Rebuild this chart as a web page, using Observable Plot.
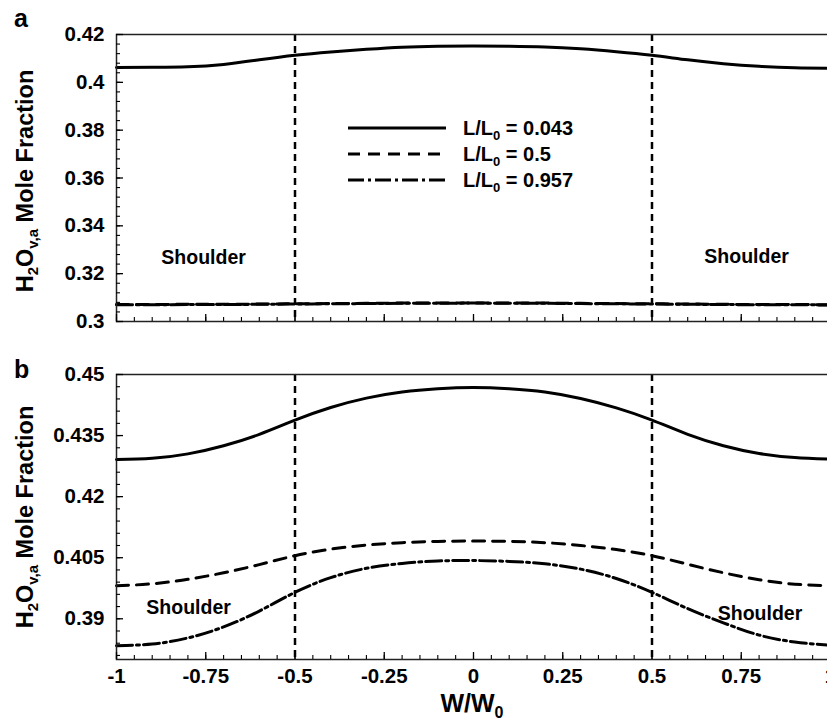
<!DOCTYPE html>
<html>
<head>
<meta charset="utf-8">
<script src="https://cdn.jsdelivr.net/npm/d3@7"></script>
<script src="https://cdn.jsdelivr.net/npm/@observablehq/plot@0.6"></script>
<style>
  body { margin: 0; background: #fff; }
  #chart { position: relative; width: 827px; height: 720px; overflow: hidden;
           font-family: "Liberation Sans", Arial, sans-serif; font-weight: bold; }
  #chart svg { display: block; }
</style>
</head>
<body>
<div id="chart"></div>
<script>
// ---- data ----
const xs = [-1,-0.9,-0.8,-0.7,-0.6,-0.5,-0.4,-0.3,-0.2,-0.1,0,0.1,0.2,0.3,0.4,0.5,0.6,0.7,0.8,0.9,1];

// panel a
const a_L043  = [0.4062,0.4063,0.4065,0.4075,0.4094,0.4113,0.4127,0.4138,0.4147,0.4151,0.4152,0.4151,0.4148,0.4140,0.4128,0.4113,0.4094,0.4078,0.4067,0.4061,0.4059];
const a_L05   = [0.3071,0.3071,0.3072,0.3072,0.3073,0.3074,0.3075,0.3076,0.3077,0.3077,0.3077,0.3077,0.3077,0.3076,0.3075,0.3074,0.3073,0.3072,0.3071,0.3071,0.3070];
const a_L0957 = [0.3070,0.3070,0.3071,0.3071,0.3072,0.3073,0.3074,0.3075,0.3076,0.3076,0.3077,0.3076,0.3076,0.3075,0.3074,0.3073,0.3072,0.3071,0.3070,0.3070,0.3069];

// panel b
const b_L043  = [0.4291,0.4294,0.4305,0.4325,0.4353,0.4388,0.4419,0.4442,0.4457,0.4465,0.4468,0.4465,0.4457,0.4441,0.4418,0.4388,0.4353,0.4325,0.4306,0.4296,0.4292];
const b_L05   = [0.3981,0.3986,0.3997,0.4013,0.4033,0.4055,0.4071,0.4081,0.4087,0.4090,0.4091,0.4090,0.4087,0.4080,0.4070,0.4055,0.4034,0.4013,0.3996,0.3985,0.3981];
const b_L0957 = [0.3834,0.3838,0.3853,0.3880,0.3919,0.3965,0.4001,0.4024,0.4036,0.4042,0.4043,0.4041,0.4035,0.4022,0.3999,0.3965,0.3925,0.3890,0.3860,0.3843,0.3835];

const seriesKeys = ["0.043", "0.5", "0.957"];
const boundaries = [-0.5, 0.5];

const xTicks  = [-1,-0.75,-0.5,-0.25,0,0.25,0.5,0.75,1];
const yTicksA = [0.3,0.32,0.34,0.36,0.38,0.4,0.42];
const yTicksB = [0.39,0.405,0.42,0.435,0.45];

// ---- helpers ----
const FONT = '"Liberation Sans", Arial, sans-serif';
const dashes = {"0.043": null, "0.5": "12,8", "0.957": "16,4,3,4"};

function rowsOf(arrs) {
  const rows = [];
  seriesKeys.forEach((k, j) => xs.forEach((x, i) => rows.push({x, v: arrs[j][i], s: k})));
  return rows;
}
const minor = (a, b, step) => d3.range(Math.round((b - a) / step) + 1).map(i => +(a + i * step).toFixed(4));

function panel({rows, yDomain, yTicks, yMinor, height, marginBottom, xLabels, shoulders}) {
  const marks = [
    Plot.ruleX(boundaries, {stroke: "#000", strokeWidth: 2.5, strokeDasharray: "7,5"}),
    ...seriesKeys.map(k => Plot.line(rows.filter(d => d.s === k), {
      x: "x", y: "v", curve: "natural", stroke: "#000", strokeWidth: 3,
      strokeDasharray: dashes[k]
    })),
    Plot.text(shoulders.map(s => s.t), {x: shoulders.map(s => s.x), y: shoulders.map(s => s.y),
      fontSize: 19.5, fontWeight: "bold", fill: "#000"}),
    Plot.frame({stroke: "#222", strokeWidth: 1.5}),
    // ticks (inward)
    Plot.axisX({ticks: xTicks, tickSize: -7, tickFormat: () => "", label: null, strokeWidth: 1.3}),
    Plot.axisX({ticks: minor(-1, 1, 0.05), tickSize: -4, tickFormat: () => "", label: null, strokeWidth: 1.1}),
    Plot.axisY({ticks: yTicks, tickSize: -7, tickFormat: () => "", label: null, strokeWidth: 1.3}),
    Plot.axisY({ticks: yMinor, tickSize: -4, tickFormat: () => "", label: null, strokeWidth: 1.1}),
    Plot.axisY({ticks: yTicks, tickSize: 0, tickPadding: 12, tickFormat: d => String(d), label: null,
      fontSize: 20.5, fontWeight: "bold"})
  ];
  if (xLabels) marks.push(Plot.axisX({ticks: xTicks, tickSize: 0, tickPadding: 9,
      tickFormat: d => String(d), label: null, fontSize: 20.5, fontWeight: "bold"}));
  return Plot.plot({
    width: 827, height,
    marginLeft: 116, marginRight: -3, marginTop: 34, marginBottom,
    style: {fontFamily: FONT, fontWeight: "bold", color: "#000", background: "#fff", overflow: "hidden"},
    x: {domain: [-1, 1]},
    y: {domain: yDomain},
    marks
  });
}

function yTitle(svg, cy) {
  const t = d3.select(svg).append("text")
    .attr("transform", `translate(33,${cy}) rotate(-90)`)
    .attr("text-anchor", "middle").attr("font-family", FONT).attr("font-weight", "bold")
    .attr("font-size", 23.5).attr("fill", "#000");
  t.append("tspan").text("H");
  t.append("tspan").attr("font-size", 15).attr("dy", 5).text("2");
  t.append("tspan").attr("dy", -5).text("O");
  t.append("tspan").attr("font-size", 15).attr("dy", 5).text("v,a");
  t.append("tspan").attr("dy", -5).text(" Mole Fraction");
}
function letter(svg, ch, y) {
  d3.select(svg).append("text").attr("x", 14).attr("y", y).attr("text-anchor", "start")
    .attr("font-family", FONT).attr("font-weight", "bold").attr("font-size", 25).attr("fill", "#000").text(ch);
}

// ---- panel a ----
const svgA = panel({
  rows: rowsOf([a_L043, a_L05, a_L0957]),
  yDomain: [0.3, 0.42], yTicks: yTicksA, yMinor: minor(0.3, 0.42, 0.004),
  height: 340, marginBottom: 19, xLabels: false,
  shoulders: [{t: "Shoulder", x: -0.756, y: 0.3267}, {t: "Shoulder", x: 0.765, y: 0.3271}]
});
yTitle(svgA, 181);
letter(svgA, "a", 27);
// legend
{
  const g = d3.select(svgA).append("g").attr("font-family", FONT).attr("font-weight", "bold")
    .attr("text-anchor", "start");
  const rowsY = [128, 154, 180];
  seriesKeys.forEach((k, i) => {
    g.append("line").attr("x1", 348).attr("x2", 446).attr("y1", rowsY[i]).attr("y2", rowsY[i])
      .attr("stroke", "#000").attr("stroke-width", 3).attr("stroke-dasharray", dashes[k]);
    const t = g.append("text").attr("x", 463).attr("y", rowsY[i] + 7).attr("text-anchor", "start")
      .attr("font-size", 20).attr("fill", "#000");
    t.append("tspan").text("L/L");
    t.append("tspan").attr("font-size", 13).attr("dy", 5).text("0");
    t.append("tspan").attr("dy", -5).text(" = " + k);
  });
}

// ---- panel b ----
const svgB = panel({
  rows: rowsOf([b_L043, b_L05, b_L0957]),
  yDomain: [0.38, 0.45], yTicks: yTicksB, yMinor: minor(0.381, 0.45, 0.003),
  height: 380, marginBottom: 61, xLabels: true,
  shoulders: [{t: "Shoulder", x: -0.798, y: 0.3928}, {t: "Shoulder", x: 0.8025, y: 0.3913}]
});
yTitle(svgB, 177);
letter(svgB, "b", 38);
{
  const t = d3.select(svgB).append("text").attr("x", 472).attr("y", 372).attr("text-anchor", "middle")
    .attr("font-family", FONT).attr("font-weight", "bold").attr("font-size", 25).attr("fill", "#000");
  t.append("tspan").text("W/W");
  t.append("tspan").attr("font-size", 16).attr("dy", 6).text("0");
}

const root = document.getElementById("chart");
root.appendChild(svgA);
root.appendChild(svgB);
</script>
</body>
</html>
